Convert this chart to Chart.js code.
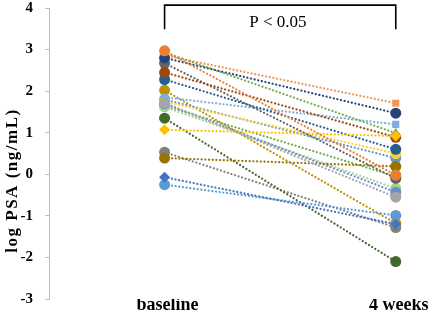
<!DOCTYPE html>
<html>
<head>
<meta charset="utf-8">
<script src="https://cdn.jsdelivr.net/npm/chart.js@4.4.1/dist/chart.umd.min.js"></script>
<style>
  html, body { margin: 0; padding: 0; background: #fff; }
  #wrap { width: 429px; height: 314px; }
</style>
</head>
<body>
<div id="wrap"><canvas id="chart" width="429" height="314"></canvas></div>
<script>
// time points
const categories = ['baseline', '4 weeks'];

// log PSA per patient, baseline and after 4 weeks
const baselineValues = [-0.07, 2.97, 1.72, 1.07, -0.25, 2.93, 2.80, 2.45, 2.67, 0.39, 2.28, 1.35, 1.70, 2.86, 1.85, 1.75, 1.80, 1.62, 2.02, 1.65, 0.53];
const week4Values    = [-1.20, -0.02, -0.55, 0.92, -0.99, 0.99, 1.47, 0.89, -0.10, 0.19, 0.60, -2.10, -0.43, 1.71, 1.20, 0.50, 0.39, -0.34, -1.18, -0.05, -1.28];

// y axis
const yTicks = [-3, -2, -1, 0, 1, 2, 3, 4];
const yTitle = 'log PSA (ng/mL)';

// significance bracket
const bracketX = [0, 0, 1, 1];
const bracketY = [3.49, 4.07, 4.07, 3.49];
const pText = 'P < 0.05';

// styles
const seriesColors = ['#4472C4', '#ED7D31', '#A5A5A5', '#FFC000', '#5B9BD5', '#70AD47', '#264478', '#9E480E',
  '#636363', '#997300', '#255E91', '#43682B', '#698ED0', '#F1975A', '#7CAFDD', '#FFCD33', '#5B9BD5',
  '#A9D18E', '#BF9000', '#70AD47', '#808080'];
const seriesShapes = ['rectRot', 'circle', 'circle', 'rectRot', 'circle', 'triangle', 'circle', 'circle',
  'circle', 'circle', 'circle', 'circle', 'circle', 'rect', 'rect', 'circle', 'circle',
  'circle', 'circle', 'circle', 'circle'];

const datasets = baselineValues.map((b, i) => ({
    data: [{ x: 0, y: b }, { x: 1, y: week4Values[i] }],
    borderColor: seriesColors[i],
    backgroundColor: seriesColors[i],
    borderWidth: 2.2,
    borderDash: [0.1, 3.6],
    borderCapStyle: 'round',
    pointStyle: seriesShapes[i],
    pointRadius: seriesShapes[i] === 'rect' ? 5 : 5.5,
    pointBorderWidth: 0,
    showLine: true
}));

datasets.push({
    data: bracketX.map((x, i) => ({ x: x, y: bracketY[i] })),
    borderColor: '#000',
    borderWidth: 1.6,
    pointRadius: 0,
    showLine: true,
    clip: false
});

const textPlugin = {
    id: 'texts',
    afterDraw(chart) {
        const { ctx, scales: { x, y } } = chart;
        ctx.save();
        ctx.fillStyle = '#000';
        ctx.textAlign = 'center';
        ctx.textBaseline = 'middle';
        ctx.font = '17px "Liberation Serif"';
        ctx.fillText(pText, x.getPixelForValue(0.49), y.getPixelForValue(3.64));

        // axis title, drawn by hand so it sits where the original has it
        ctx.font = 'bold 17px "Liberation Serif"';
        ctx.letterSpacing = '1.5px';
        ctx.translate(13, y.getPixelForValue(-0.15));
        ctx.rotate(-Math.PI / 2);
        ctx.fillText(yTitle, 0, 0);
        ctx.restore();
    }
};

new Chart(document.getElementById('chart'), {
    type: 'scatter',
    data: { datasets: datasets },
    plugins: [textPlugin],
    options: {
        responsive: false,
        animation: false,
        layout: { padding: { top: 8, right: 0, bottom: 0, left: 0 } },
        plugins: { legend: { display: false }, tooltip: { enabled: false } },
        scales: {
            x: {
                type: 'linear',
                min: -0.5,
                max: 1.12,
                grid: { display: false, drawTicks: false },
                border: { display: false },
                afterBuildTicks: (scale) => { scale.ticks = categories.map((c, i) => ({ value: i })); },
                afterFit: (scale) => { scale.height = 15; scale.paddingLeft = 0; scale.paddingRight = 0; },
                ticks: {
                    padding: -3,
                    labelOffset: 3,
                    maxRotation: 0,
                    color: '#000',
                    font: { family: 'Liberation Serif', size: 18, weight: 'bold', lineHeight: 1 },
                    callback: (v) => categories[v]
                }
            },
            y: {
                min: -3,
                max: 4,
                afterBuildTicks: (scale) => { scale.ticks = yTicks.map(v => ({ value: v })); },
                afterFit: (scale) => { scale.width = 49; scale.paddingTop = 0; scale.paddingBottom = 0; },
                grid: { display: true, drawOnChartArea: false, drawTicks: true, tickLength: 4, color: '#BFBFBF' },
                border: { display: true, color: '#BFBFBF', width: 1 },
                ticks: {
                    padding: 12,
                    color: '#000',
                    font: { family: 'Liberation Serif', size: 15, weight: 'bold', lineHeight: 1 }
                }
            }
        }
    }
});
</script>
</body>
</html>
